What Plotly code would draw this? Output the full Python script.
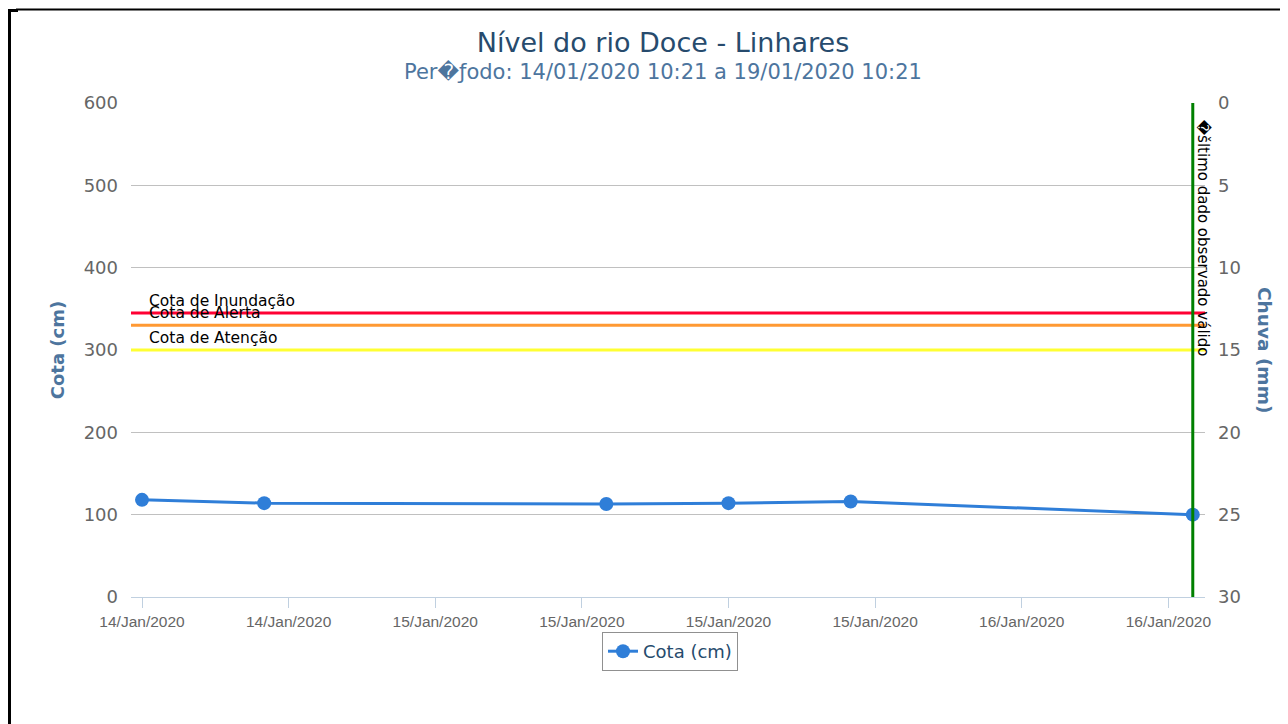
import plotly.graph_objects as go

# ---- data ----
times = ["2020-01-14 12:00", "2020-01-14 17:00", "2020-01-15 07:00",
         "2020-01-15 12:00", "2020-01-15 17:00", "2020-01-16 07:00"]
cota_cm = [118, 114, 113, 114, 116, 100]
threshold_names = ["Cota de Inundação", "Cota de Alerta", "Cota de Atenção"]
threshold_values = [345, 330, 300]
threshold_colors = ["#FF0033", "#FF9933", "#FFFF33"]
last_valid = "2020-01-16 07:00"
x_range = ["2020-01-14 11:33", "2020-01-16 07:30"]

OFF = 8  # page body margin
W, H = 1288, 724
L, R, T, B = 131, 1205, 103, 597
PW, PH = R - L, B - T

def px(x):
    return (x - L) / PW

def py(y):
    return (B - y) / PH

fig = go.Figure()

fig.add_trace(go.Scatter(
    x=times, y=cota_cm, mode="lines+markers", name="Cota (cm)",
    line=dict(color="#2f7ed8", width=3),
    marker=dict(color="#2f7ed8", size=14),
))
# dummy trace for the rain axis (no rain data)
fig.add_trace(go.Scatter(x=times, y=[None] * len(times), yaxis="y2",
                         showlegend=False, hoverinfo="skip"))

shapes = []
annotations = []
for name, val, col in zip(threshold_names, threshold_values, threshold_colors):
    shapes.append(dict(type="line", xref="paper", yref="y", x0=0, x1=1,
                       y0=val, y1=val, line=dict(color=col, width=3)))
    annotations.append(dict(text=name, xref="paper", yref="y", x=px(147), y=val,
                            xanchor="left", yanchor="middle", yshift=12,
                            showarrow=False,
                            font=dict(family="DejaVu Sans", size=15.5, color="#000000")))

shapes.append(dict(type="line", xref="x", yref="paper", x0=last_valid, x1=last_valid,
                   y0=0, y1=1, line=dict(color="#008000", width=3)))
annotations.append(dict(text="\ufffd\u0161ltimo dado observado válido", xref="x", yref="paper",
                        x=last_valid, y=py(238.5), xshift=11, xanchor="center",
                        yanchor="middle", textangle=90, showarrow=False,
                        font=dict(family="DejaVu Sans", size=15, color="#000000")))

# subtitle
annotations.append(dict(text="Per\ufffd\u0192odo: 14/01/2020 10:21 a 19/01/2020 10:21",
                        xref="paper", yref="paper", x=px(663), y=py(71),
                        xanchor="center", yanchor="middle", showarrow=False,
                        font=dict(family="DejaVu Sans", size=21, color="#4d759e")))
# right axis title
annotations.append(dict(text="<b>Chuva (mm)</b>", xref="paper", yref="paper",
                        x=px(1265), y=py(350), xanchor="center", yanchor="middle",
                        textangle=90, showarrow=False,
                        font=dict(family="DejaVu Sans", size=18.5, color="#4d759e")))

# page border (top and left edges)
shapes.append(dict(type="line", xref="paper", yref="paper", x0=px(16), x1=px(1300),
                   y0=py(9.5), y1=py(9.5), line=dict(color="#000000", width=2)))
shapes.append(dict(type="line", xref="paper", yref="paper", x0=px(9.5), x1=px(9.5),
                   y0=py(9), y1=py(740), line=dict(color="#000000", width=3)))
shapes.append(dict(type="line", xref="paper", yref="paper", x0=px(8), x1=px(18),
                   y0=py(10.5), y1=py(10.5), line=dict(color="#000000", width=3)))

fig.update_layout(
    width=W - OFF, height=H - OFF,
    margin=dict(l=L - OFF, r=W - R, t=T - OFF, b=H - B),
    paper_bgcolor="#ffffff", plot_bgcolor="#ffffff",
    title=dict(text="Nível do rio Doce - Linhares", x=px(663), xref="paper",
               xanchor="center", y=1 - (43 - OFF) / (H - OFF), yanchor="middle",
               font=dict(family="DejaVu Sans", size=27, color="#274b6d")),
    xaxis=dict(type="date", range=x_range, tick0="2020-01-14 12:00",
               dtick=6 * 3600 * 1000, tickformat="%d/%b/%Y",
               showgrid=False, showline=True, linecolor="#C0D0E0", linewidth=1,
               ticks="outside", ticklen=10, tickcolor="#C0D0E0",
               tickfont=dict(family="Liberation Sans", size=15.5, color="#666666"),
               zeroline=False),
    yaxis=dict(range=[0, 600], dtick=100, showgrid=True, gridcolor="#C0C0C0",
               gridwidth=1, zeroline=False, showline=False,
               ticks="", ticklabelstandoff=12,
               tickfont=dict(family="DejaVu Sans", size=18, color="#666666"),
               title=dict(text="<b>Cota (cm)</b>", standoff=14,
                          font=dict(family="DejaVu Sans", size=18, color="#4d759e"))),
    yaxis2=dict(range=[30, 0], dtick=5, overlaying="y", side="right",
                showgrid=False, zeroline=False, showline=False, ticks="",
                ticklabelstandoff=12,
                tickfont=dict(family="DejaVu Sans", size=18, color="#666666")),
    legend=dict(x=px(670), y=py(632), xanchor="center", yanchor="top",
                orientation="h", bordercolor="#909090", borderwidth=1,
                bgcolor="#ffffff",
                font=dict(family="DejaVu Sans", size=18, color="#274b6d")),
    shapes=shapes,
    annotations=annotations,
    showlegend=True,
)

fig.write_html("out.html")
